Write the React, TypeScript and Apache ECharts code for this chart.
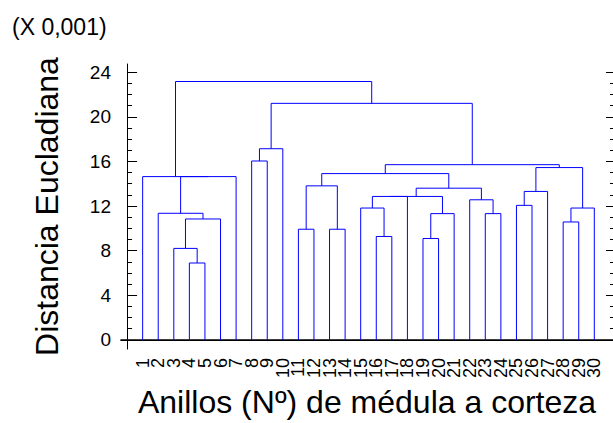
import React, { useEffect, useRef } from "react";
import * as echarts from "echarts";

// Leaf labels (display order along the x axis)
const leafLabels = ["1","2","3","4","5","6","7","8","9","10","11","12","13","14","15","16","17","18","19","20","21","22","23","24","25","26","27","28","29","30"];
// Merges: positive = leaf number, negative = earlier merge (1-based index)
const mergeLeft = [4, 3, 19, 16, 11, 13, 28, -2, 23, -3, 2, 15, -7, 25, 22, -12, -16, -14, -17, -5, -20, -11, 1, -18, -21, 8, -26, -27, -23];
const mergeRight = [5, -1, 20, 17, 12, 14, 29, 6, 24, 21, -8, -4, 30, 26, -9, 18, -10, 27, -15, -6, -19, 7, -22, -13, -24, 9, 10, -25, -28];
const mergeHeight = [6.89, 8.2, 9.09, 9.27, 9.92, 9.92, 10.57, 10.84, 11.32, 11.32, 11.35, 11.82, 11.82, 12.06, 12.56, 12.86, 12.86, 13.31, 13.6, 13.81, 14.91, 14.64, 14.64, 15.45, 15.71, 16.04, 17.14, 21.21, 23.17];
const majorTicks = [0, 4, 8, 12, 16, 20, 24];
const minorTicks = [1, 2, 3, 5, 6, 7, 9, 10, 11, 13, 14, 15, 17, 18, 19, 21, 22, 23];

const FONT = "Liberation Sans, Arial, sans-serif";

function buildSegments() {
  const nodeX: number[] = [];
  const nodeH: number[] = [];
  const pos = (id: number) => (id > 0 ? [id, 0] : [nodeX[-id - 1], nodeH[-id - 1]]);
  const rows: number[][] = [];
  for (let i = 0; i < mergeLeft.length; i++) {
    const [xl, hl] = pos(mergeLeft[i]);
    const [xr, hr] = pos(mergeRight[i]);
    const h = mergeHeight[i];
    nodeX.push((xl + xr) / 2);
    nodeH.push(h);
    rows.push([xl, hl, xr, hr, h]);
  }
  return rows;
}

export default function App() {
  const ref = useRef<HTMLDivElement>(null);
  useEffect(() => {
    if (!ref.current) return;
    const chart = echarts.init(ref.current, null, { renderer: "svg" });
    const data = buildSegments();
    const yMin = -0.83;
    const yMax = 24.74;
    const xMin = -0.39;
    const xMax = 31.2;
    // empty guard labels at both ends keep the min/max-label overlap check off the leaf labels
    const labelValues = [xMin + 0.05, ...leafLabels.map((l) => Number(l)), xMax - 0.05];
    const yBase = {
      type: "value" as const,
      min: yMin,
      max: yMax,
      splitLine: { show: false },
    };
    chart.setOption({
      animation: false,
      backgroundColor: "#ffffff",
      textStyle: { fontFamily: FONT },
      grid: { left: 121, top: 64, right: 0, bottom: 72, containLabel: false },
      graphic: [
        {
          type: "text",
          left: 12,
          top: 15,
          style: { text: "(X 0,001)", fontSize: 23, fontFamily: FONT, fill: "#000" },
        },
      ],
      xAxis: [
        {
          type: "value",
          min: xMin,
          max: xMax,
          position: "bottom",
          axisLine: { show: true, lineStyle: { color: "#000", width: 1.5 } },
          axisTick: { show: false },
          splitLine: { show: false },
          axisLabel: {
            customValues: labelValues,
            formatter: (v: number) => {
              const r = Math.round(v);
              return Math.abs(v - r) < 1e-6 && r >= 1 && r <= leafLabels.length ? leafLabels[r - 1] : "";
            },
            rotate: 90,
            fontSize: 18,
            lineHeight: 13,
            margin: 9,
            color: "#000",
            fontFamily: FONT,
            showMinLabel: true,
            showMaxLabel: true,
            hideOverlap: false,
          },
          name: "Anillos (Nº) de médula a corteza",
          nameLocation: "middle",
          nameGap: 33,
          nameTextStyle: { fontSize: 32, color: "#000", fontFamily: FONT },
        },
        {
          type: "value",
          min: xMin,
          max: xMax,
          position: "top",
          axisLine: { show: true, lineStyle: { color: "#000", width: 1 } },
          axisTick: { show: false },
          axisLabel: { show: false },
          splitLine: { show: false },
        },
      ],
      yAxis: [
        {
          ...yBase,
          position: "left",
          axisLine: { show: true, lineStyle: { color: "#000", width: 1 } },
          axisTick: { show: true, inside: true, length: 10, customValues: majorTicks, lineStyle: { color: "#000" } },
          axisLabel: { customValues: majorTicks, fontSize: 19, margin: 10, color: "#000", fontFamily: FONT, showMinLabel: true, showMaxLabel: true },
          name: "Distancia Eucladiana",
          nameLocation: "middle",
          nameGap: 58,
          nameRotate: 90,
          nameTextStyle: { fontSize: 32, color: "#000", fontFamily: FONT },
        },
        {
          ...yBase,
          position: "left",
          offset: 0,
          axisLine: { show: false },
          axisTick: { show: true, inside: true, length: 5, customValues: minorTicks, lineStyle: { color: "#000" } },
          axisLabel: { show: false },
        },
        {
          ...yBase,
          position: "right",
          axisLine: { show: false },
          axisTick: { show: true, inside: true, length: 7, customValues: majorTicks, lineStyle: { color: "#000" } },
          axisLabel: { show: false },
        },
        {
          ...yBase,
          position: "right",
          offset: 0,
          axisLine: { show: false },
          axisTick: { show: true, inside: true, length: 3, customValues: minorTicks, lineStyle: { color: "#000" } },
          axisLabel: { show: false },
        },
      ],
      series: [
        {
          type: "custom",
          xAxisIndex: 0,
          yAxisIndex: 0,
          clip: false,
          data,
          encode: { x: [0, 2], y: [1, 3, 4] },
          renderItem: (params: any, api: any) => {
            const xl = api.value(0);
            const hl = api.value(1);
            const xr = api.value(2);
            const hr = api.value(3);
            const h = api.value(4);
            const p1 = api.coord([xl, hl]);
            const p2 = api.coord([xl, h]);
            const p3 = api.coord([xr, h]);
            const p4 = api.coord([xr, hr]);
            return {
              type: "polyline",
              shape: { points: [p1, p2, p3, p4] },
              style: { stroke: "#0000ff", lineWidth: 1, fill: null },
            };
          },
        },
      ],
    });
    return () => chart.dispose();
  }, []);
  return (
    <div
      ref={ref}
      style={{ position: "absolute", left: 0, top: 0, width: 613, height: 423 }}
    />
  );
}
